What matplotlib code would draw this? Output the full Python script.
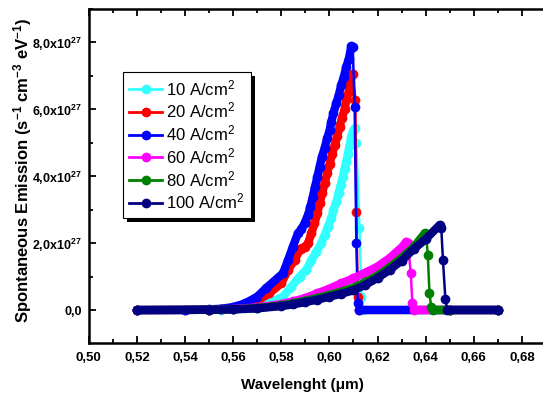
import matplotlib
matplotlib.use('Agg')
import matplotlib.pyplot as plt
import numpy as np
from matplotlib.lines import Line2D
from matplotlib.patches import Rectangle
from matplotlib.ticker import MultipleLocator, FuncFormatter

plt.rcParams['font.family'] = ['Liberation Sans', 'DejaVu Sans']
plt.rcParams['mathtext.fontset'] = 'custom'
plt.rcParams['mathtext.rm'] = 'Liberation Sans'
plt.rcParams['mathtext.it'] = 'Liberation Sans:italic'
plt.rcParams['mathtext.bf'] = 'Liberation Sans:bold'

# spontaneous emission in units of 1e27 s^-1 cm^-3 eV^-1, wavelength in um
lam_10 = [0.520, 0.540, 0.550, 0.555, 0.560, 0.565, 0.570, 0.575, 0.5807, 0.5842,
          0.5876, 0.5904, 0.5925, 0.5946, 0.5966, 0.5980, 0.5994, 0.6008, 0.6017,
          0.6029, 0.6038, 0.6047, 0.6056, 0.6063, 0.6070, 0.6077, 0.6084, 0.6091,
          0.6098, 0.6105, 0.6112, 0.6125, 0.6133, 0.6140, 0.650, 0.670]
em_10 = [0, 0, 0.005, 0.01, 0.02, 0.05, 0.11, 0.22, 0.40, 0.70,
         1.00, 1.20, 1.49, 1.74, 1.99, 2.24, 2.49, 2.74, 2.99,
         3.24, 3.49, 3.74, 3.98, 4.23, 4.43, 4.68, 4.93, 5.18,
         5.35, 5.43, 4.98, 2.44, 0.40, 0, 0, 0]

lam_20 = [0.520, 0.540, 0.550, 0.555, 0.560, 0.565, 0.570, 0.575, 0.5800, 0.5828,
          0.5855, 0.5880, 0.5897, 0.5911, 0.5925, 0.5938, 0.5950, 0.5959, 0.5970,
          0.5980, 0.5991, 0.6001, 0.6012, 0.6022, 0.6033, 0.6042, 0.6052, 0.6063,
          0.6070, 0.6080, 0.6087, 0.6098, 0.6108, 0.6112, 0.6118, 0.6125, 0.650, 0.670]
em_20 = [0, 0, 0.01, 0.02, 0.06, 0.13, 0.27, 0.50, 0.80, 1.20,
         1.49, 1.84, 1.89, 1.99, 2.29, 2.59, 2.89, 3.19, 3.49,
         3.79, 4.09, 4.38, 4.68, 4.93, 5.20, 5.48, 5.73, 6.00,
         6.28, 6.52, 6.82, 7.07, 6.28, 2.94, 0.40, 0, 0, 0]

lam_40 = [0.520, 0.540, 0.550, 0.555, 0.560, 0.565, 0.570, 0.5738, 0.5807, 0.5828,
          0.5848, 0.5869, 0.5883, 0.5897, 0.5911, 0.5921, 0.5931, 0.5940, 0.5950,
          0.5959, 0.5969, 0.5980, 0.5991, 0.6001, 0.6008, 0.6017, 0.6029, 0.6039,
          0.6049, 0.6060, 0.6070, 0.6081, 0.6091, 0.6097, 0.6105, 0.6112, 0.6118,
          0.6125, 0.650, 0.670]
em_40 = [0, 0, 0.02, 0.04, 0.09, 0.20, 0.40, 0.66, 1.10, 1.49,
         1.89, 2.29, 2.41, 2.60, 2.84, 3.09, 3.39, 3.68, 3.98,
         4.28, 4.58, 4.84, 5.14, 5.38, 5.63, 5.89, 6.19, 6.43,
         6.72, 6.97, 7.27, 7.52, 7.89, 7.85, 6.07, 2.00, 0.20,
         0, 0, 0]

lam_60 = [0.520, 0.550, 0.560, 0.570, 0.580, 0.585, 0.590, 0.595, 0.600, 0.605,
          0.610, 0.615, 0.620, 0.625, 0.630, 0.6320, 0.6327, 0.6338, 0.6345, 0.6352,
          0.650, 0.670]
em_60 = [0, 0.01, 0.03, 0.08, 0.18, 0.26, 0.36, 0.50, 0.64, 0.80,
         0.95, 1.12, 1.30, 1.55, 1.87, 2.04, 2.00, 1.10, 0.22, 0,
         0, 0]

lam_80 = [0.520, 0.550, 0.560, 0.570, 0.580, 0.585, 0.590, 0.595, 0.600, 0.605,
          0.610, 0.615, 0.620, 0.625, 0.630, 0.635, 0.6396, 0.6402, 0.6409, 0.6416,
          0.6423, 0.6430, 0.650, 0.670]
em_80 = [0, 0.01, 0.02, 0.06, 0.14, 0.20, 0.28, 0.36, 0.45, 0.55,
         0.67, 0.83, 1.03, 1.28, 1.56, 1.88, 2.29, 2.25, 1.64, 0.50,
         0.10, 0, 0, 0]

lam_100 = [0.520, 0.550, 0.560, 0.570, 0.580, 0.585, 0.590, 0.595, 0.600, 0.605,
           0.610, 0.615, 0.620, 0.625, 0.630, 0.635, 0.640, 0.6458, 0.6465, 0.6472,
           0.6482, 0.6490, 0.670]
em_100 = [0, 0.01, 0.02, 0.05, 0.12, 0.17, 0.24, 0.31, 0.40, 0.49,
          0.59, 0.76, 0.96, 1.20, 1.48, 1.82, 2.12, 2.54, 2.45, 1.49,
          0.33, 0, 0]

labels = ['10 A/cm$^2$', '20 A/cm$^2$', '40 A/cm$^2$',
          '60 A/cm$^2$', '80 A/cm$^2$', '100 A/cm$^2$']
colors = ['#33ffff', '#ff0000', '#0000ff', '#ff00ff', '#008000', '#000080']
series = [(lam_10, em_10), (lam_20, em_20), (lam_40, em_40),
          (lam_60, em_60), (lam_80, em_80), (lam_100, em_100)]


def draw_series(ax, lam, em, color):
    lam = np.asarray(lam)
    em = np.asarray(em)
    peak = int(np.argmax(em))
    tail = peak + int(np.argmax(em[peak:] == 0))
    # dense symbols merge into a thick band on the smooth parts
    ax.plot(lam[:peak + 1], em[:peak + 1], color=color, lw=6, solid_capstyle='round')
    ax.plot(lam[tail:], em[tail:], color=color, lw=6, solid_capstyle='round')
    ax.plot(lam, em, color=color, lw=1.8, marker='o', ms=6, mec=color)


W, H = 543, 394
fig = plt.figure(figsize=(W / 100, H / 100), dpi=100)
ax_l, ax_r, ax_t, ax_b = 88.8, 543.0, 9.0, 342.5
ax = fig.add_axes([ax_l / W, 1 - ax_b / H, (ax_r - ax_l) / W, (ax_b - ax_t) / H])

for (lam, em), c in zip(series, colors):
    draw_series(ax, lam, em, c)

ax.set_xlim(0.5, 0.5 + (ax_r - ax_l) / 2406.0)
ax.set_ylim(-0.97, 9.0)

ax.xaxis.set_major_locator(MultipleLocator(0.02))
ax.xaxis.set_minor_locator(MultipleLocator(0.01))
ax.yaxis.set_major_locator(MultipleLocator(2))
ax.yaxis.set_minor_locator(MultipleLocator(1))
ax.xaxis.set_major_formatter(FuncFormatter(lambda v, p: f'{v:.2f}'.replace('.', ',')))


def yfmt(v, p):
    if abs(v) < 1e-9:
        return '0,0'
    return f'{v:.1f}'.replace('.', ',') + r'x10$^{\mathbf{27}}$'


ax.yaxis.set_major_formatter(FuncFormatter(yfmt))

for s in ['left', 'bottom', 'top']:
    ax.spines[s].set_linewidth(1.8)
ax.spines['right'].set_visible(False)
ax.tick_params(which='both', direction='in', top=True, right=False, width=1.3)
ax.tick_params(which='major', length=5, pad=5)
ax.tick_params(axis='x', which='major', labelsize=9.5, pad=7)
ax.tick_params(axis='y', which='major', labelsize=9)
ax.tick_params(which='minor', length=3)
for t in ax.get_xticklabels() + ax.get_yticklabels():
    t.set_fontweight('bold')

fig.text(302.5 / W, 1 - 385 / H, 'Wavelenght (μm)', fontsize=11, fontweight='bold',
         ha='center', va='center')
fig.text(23 / W, 1 - 170 / H,
         r'Spontaneous Emission (s$^{\mathbf{-1}}$ cm$^{\mathbf{-3}}$ eV$^{\mathbf{-1}}$)',
         fontsize=12, fontweight='bold', rotation=90, ha='center', va='center')

handles = [Line2D([], [], color=c, lw=2, marker='o', ms=6) for c in colors]
leg = ax.legend(handles, labels, loc='upper left', bbox_to_anchor=(123 / W, 1 - 72.3 / H),
                bbox_transform=fig.transFigure, borderaxespad=0, fontsize=12,
                fancybox=False, framealpha=1, edgecolor='black', handlelength=2.0,
                handletextpad=0.25, labelspacing=0.17, borderpad=0.35)
leg.get_frame().set_linewidth(0.8)

# offset black shadow behind the legend box
fig.canvas.draw()
bb = leg.get_window_extent().transformed(fig.transFigure.inverted())
shadow = Rectangle((bb.x0 + 4 / W, bb.y0 - 4 / H), bb.width, bb.height,
                   transform=fig.transFigure, facecolor='black', edgecolor='none',
                   zorder=4.9, clip_on=False)
ax.add_patch(shadow)

fig.savefig('out.png', dpi=100)
